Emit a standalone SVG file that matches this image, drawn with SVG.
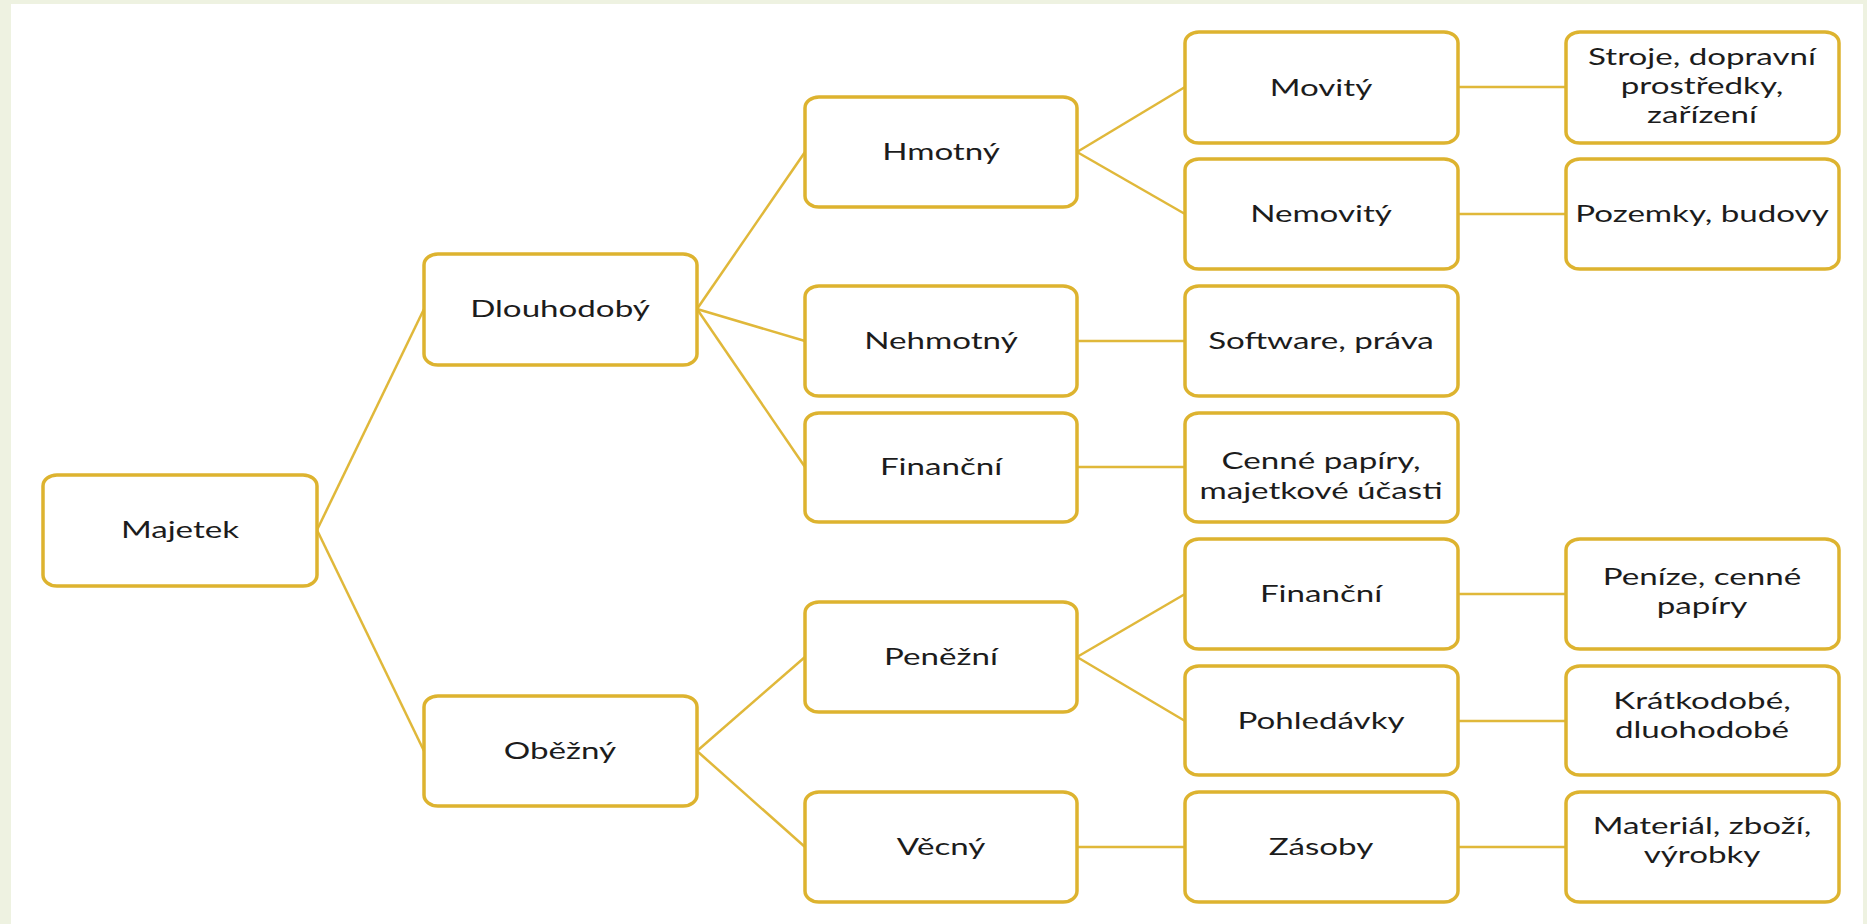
<svg xmlns="http://www.w3.org/2000/svg" width="1867" height="924" viewBox="0 0 1867 924">
<style>
.box{fill:#ffffff;stroke:#DDB32F;stroke-width:3.5}
.con line{stroke:#E0B83A;stroke-width:2.5;fill:none}
text{font-family:Lato,"Open Sans","Liberation Sans",sans-serif;font-size:24px;fill:#1c1c1c;text-anchor:middle}
</style>
<rect x="0" y="0" width="1867" height="924" fill="#EEF2E1"/>
<rect x="11" y="4" width="1852" height="920" fill="#ffffff"/>
<g class="con" id="connectors">
<line x1="317" y1="530" x2="424" y2="309"/>
<line x1="317" y1="530" x2="424" y2="751"/>
<line x1="697" y1="309" x2="805" y2="152"/>
<line x1="697" y1="309" x2="805" y2="341"/>
<line x1="697" y1="309" x2="805" y2="467"/>
<line x1="697" y1="751" x2="805" y2="657"/>
<line x1="697" y1="751" x2="805" y2="847"/>
<line x1="1077" y1="152" x2="1185" y2="87"/>
<line x1="1077" y1="152" x2="1185" y2="214"/>
<line x1="1077" y1="341" x2="1185" y2="341"/>
<line x1="1077" y1="467" x2="1185" y2="467"/>
<line x1="1077" y1="657" x2="1185" y2="594"/>
<line x1="1077" y1="657" x2="1185" y2="721"/>
<line x1="1077" y1="847" x2="1185" y2="847"/>
<line x1="1458" y1="87" x2="1566" y2="87"/>
<line x1="1458" y1="214" x2="1566" y2="214"/>
<line x1="1458" y1="594" x2="1566" y2="594"/>
<line x1="1458" y1="721" x2="1566" y2="721"/>
<line x1="1458" y1="847" x2="1566" y2="847"/>
</g>
<g id="majetek"><rect class="box" x="43" y="475" width="274" height="111" rx="14" ry="11"/><text transform="translate(180,538) scale(1.38,1)">Majetek</text></g>
<g id="dlouhodoby"><rect class="box" x="424" y="254" width="273" height="111" rx="14" ry="11"/><text transform="translate(560,317) scale(1.38,1)">Dlouhodobý</text></g>
<g id="obezny"><rect class="box" x="424" y="696" width="273" height="110" rx="14" ry="11"/><text transform="translate(560,759) scale(1.38,1)">Oběžný</text></g>
<g id="hmotny"><rect class="box" x="805" y="97" width="272" height="110" rx="14" ry="11"/><text transform="translate(941,160) scale(1.38,1)">Hmotný</text></g>
<g id="nehmotny"><rect class="box" x="805" y="286" width="272" height="110" rx="14" ry="11"/><text transform="translate(941,349) scale(1.38,1)">Nehmotný</text></g>
<g id="financni-dl"><rect class="box" x="805" y="413" width="272" height="109" rx="14" ry="11"/><text transform="translate(941,475) scale(1.38,1)">Finanční</text></g>
<g id="penezni"><rect class="box" x="805" y="602" width="272" height="110" rx="14" ry="11"/><text transform="translate(941,665) scale(1.38,1)">Peněžní</text></g>
<g id="vecny"><rect class="box" x="805" y="792" width="272" height="110" rx="14" ry="11"/><text transform="translate(941,855) scale(1.38,1)">Věcný</text></g>
<g id="movity"><rect class="box" x="1185" y="32" width="273" height="111" rx="14" ry="11"/><text transform="translate(1321,96) scale(1.38,1)">Movitý</text></g>
<g id="nemovity"><rect class="box" x="1185" y="159" width="273" height="110" rx="14" ry="11"/><text transform="translate(1321,222) scale(1.38,1)">Nemovitý</text></g>
<g id="software"><rect class="box" x="1185" y="286" width="273" height="110" rx="14" ry="11"/><text transform="translate(1321,349) scale(1.38,1)">Software, práva</text></g>
<g id="cenne"><rect class="box" x="1185" y="413" width="273" height="109" rx="14" ry="11"/><text transform="translate(1321,0) scale(1.38,1)"><tspan x="0" y="469">Cenné papíry,</tspan><tspan x="0" y="499">majetkové účasti</tspan></text></g>
<g id="financni-ob"><rect class="box" x="1185" y="539" width="273" height="110" rx="14" ry="11"/><text transform="translate(1321,602) scale(1.38,1)">Finanční</text></g>
<g id="pohledavky"><rect class="box" x="1185" y="666" width="273" height="109" rx="14" ry="11"/><text transform="translate(1321,729) scale(1.38,1)">Pohledávky</text></g>
<g id="zasoby"><rect class="box" x="1185" y="792" width="273" height="110" rx="14" ry="11"/><text transform="translate(1321,855) scale(1.38,1)">Zásoby</text></g>
<g id="stroje"><rect class="box" x="1566" y="32" width="273" height="111" rx="14" ry="11"/><text transform="translate(1702,0) scale(1.38,1)"><tspan x="0" y="65">Stroje, dopravní</tspan><tspan x="0" y="94">prostředky,</tspan><tspan x="0" y="123">zařízení</tspan></text></g>
<g id="pozemky"><rect class="box" x="1566" y="159" width="273" height="110" rx="14" ry="11"/><text transform="translate(1702,222) scale(1.38,1)">Pozemky, budovy</text></g>
<g id="penize"><rect class="box" x="1566" y="539" width="273" height="110" rx="14" ry="11"/><text transform="translate(1702,0) scale(1.38,1)"><tspan x="0" y="585">Peníze, cenné</tspan><tspan x="0" y="614">papíry</tspan></text></g>
<g id="kratkodobe"><rect class="box" x="1566" y="666" width="273" height="109" rx="14" ry="11"/><text transform="translate(1702,0) scale(1.38,1)"><tspan x="0" y="709">Krátkodobé,</tspan><tspan x="0" y="738">dluohodobé</tspan></text></g>
<g id="material"><rect class="box" x="1566" y="792" width="273" height="110" rx="14" ry="11"/><text transform="translate(1702,0) scale(1.38,1)"><tspan x="0" y="834">Materiál, zboží,</tspan><tspan x="0" y="863">výrobky</tspan></text></g>
</svg>
